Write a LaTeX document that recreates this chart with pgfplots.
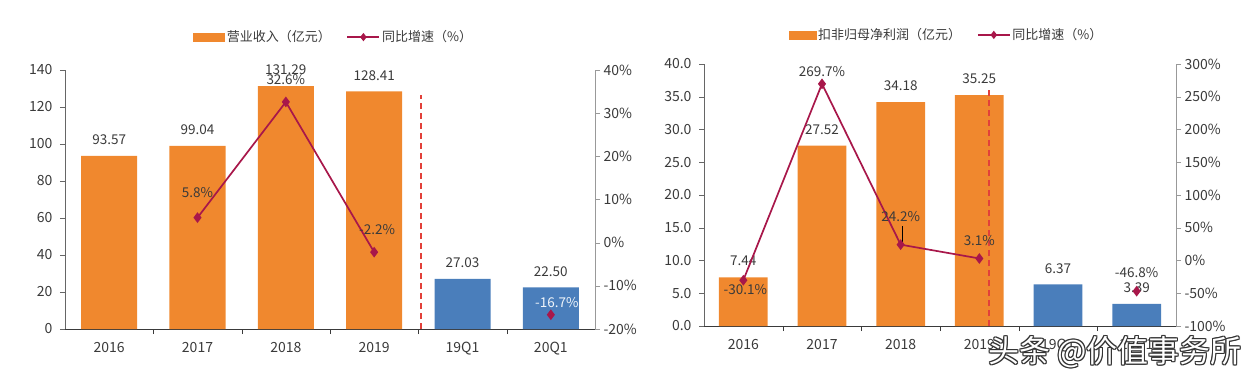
\documentclass[border=0pt]{standalone}
\usepackage{fontspec}
\setmainfont{Noto Sans CJK SC}
\usepackage{pgfplots}
\usepackage{pgfplotstable}
\pgfplotsset{compat=1.18}
\definecolor{bor}{HTML}{F0882E}
\definecolor{bbl}{HTML}{4A7EBB}
\definecolor{lin}{HTML}{A8174A}
\definecolor{dsh}{HTML}{E2403A}
\definecolor{txt}{HTML}{3A3A3A}

\pgfplotstableread{
x y
0 93.57
1 99.04
2 131.29
3 128.41
}\Lor
\pgfplotstableread{
x y
4 27.03
5 22.50
}\Lbl
\pgfplotstableread{
x y dx dy
1 5.8 0 25
2 32.6 0 22
3 -2.2 3 23
}\Lgr
\pgfplotstableread{
x y dx dy
5 -16.7 6 12
}\Lgq
\pgfplotstableread{
x y
0 7.44
1 27.52
2 34.18
3 35.25
}\Ror
\pgfplotstableread{
x y
4 6.37
5 3.39
}\Rbl
\pgfplotstableread{
x y dx dy
0 -30.1 2 -9
1 269.7 0 12
2 24.2 0 28
3 3.1 0 18
}\Rgr
\pgfplotstableread{
x y dx dy
5 -46.8 0 19
}\Rgq

\pgfplotsset{
  /pgf/number format/assume math mode=true,
  base/.style={scale only axis, xmin=-0.5, xmax=5.5, clip=false,
    tick align=outside, major tick length=5pt,
    tick label style={font=\fontsize{14}{16}\selectfont, text=txt},
    axis line style={-}},
  first/.style={base, axis x line*=bottom, axis y line*=left,
    x axis line style={draw=txt}, y axis line style={draw=black!60},
    ytick style={draw=black!60},
    yticklabel style={xshift=-4pt},
    xticklabel style={yshift=-5pt},
    xtick={0,...,5}, xticklabels={2016,2017,2018,2019,19Q1,20Q1},
    major x tick style={draw=none},
    minor xtick={0.5,1.5,2.5,3.5,4.5}, minor tick length=5pt,
    minor x tick style={draw=txt}},
  second/.style={base, axis y line*=right, axis x line=none,
    y axis line style={draw=black!40}, ytick style={draw=black!40},
    yticklabel={\pgfmathprintnumber{\tick}\%},
    legend style={draw=none, fill=none, legend columns=2,
      font=\fontsize{13}{15}\selectfont, text=txt, inner sep=0pt,
      /tikz/every even column/.append style={column sep=14pt}},
    legend cell align=left},
  barlbl/.style={nodes near coords={\pgfmathprintnumber[fixed,fixed zerofill,precision=2]{\pgfplotspointmeta}},
    every node near coord/.append style={anchor=center, yshift=16pt,
      font=\fontsize{13.5}{15}\selectfont, text=txt}},
  grlbl/.style={visualization depends on={\thisrow{dx}\as\mydx},
    visualization depends on={\thisrow{dy}\as\mydy},
    nodes near coords={\pgfmathprintnumber[fixed,fixed zerofill,precision=1]{\pgfplotspointmeta}\%},
    every node near coord/.append style={anchor=center, xshift=\mydx pt, yshift=\mydy pt,
      font=\fontsize{13.5}{15}\selectfont, text=txt}},
  ln/.style={lin, line width=1.7pt, mark=diamond*, mark size=4pt, mark options={solid}},
  barimgL/.style={legend image code/.code={\fill[bor] (0pt,-4pt) rectangle (31pt,4pt);}},
  barimgR/.style={legend image code/.code={\fill[bor] (0pt,-4pt) rectangle (27pt,4pt);}},
  lnimg/.style={legend image code/.code={\draw[lin, line width=1.3pt] (0pt,0pt) -- (32pt,0pt);
     \fill[lin] (16pt,2.8pt) -- (18.2pt,0pt) -- (16pt,-2.8pt) -- (13.8pt,0pt) -- cycle;}}
}

\begin{document}
\begin{tikzpicture}
\path[use as bounding box] (0,0) rectangle (1256pt,378pt);

% ---------- left panel ----------
\begin{axis}[first, at={(65pt,49pt)}, anchor=south west, width=530pt, height=259pt,
  ymin=0, ymax=140, ytick={0,20,...,140}]
\addplot[ybar, bar width=0.634, bar shift=0pt, fill=bor, draw=none, barlbl] table[x=x,y=y] {\Lor};
\addplot[ybar, bar width=0.634, bar shift=0pt, fill=bbl, draw=none, barlbl] table[x=x,y=y] {\Lbl};
\addplot[dsh, line width=1.5pt, dash pattern=on 6pt off 4pt] coordinates {(3.53,0) (3.53,126.5)};
\end{axis}
\begin{axis}[second, at={(65pt,49pt)}, anchor=south west, width=530pt, height=259pt,
  ymin=-20, ymax=40, ytick={-20,-10,...,40},
  legend style={at={(0.507,1.127)}, anchor=center}]
\addlegendimage{barimgL}
\addlegendentry{营业收入（亿元）}
\addplot[ln, grlbl, lnimg] table[x=x,y=y] {\Lgr};
\addlegendentry{同比增速（\%）}
\addplot[ln, only marks, forget plot, grlbl, every node near coord/.append style={text=white!92!bbl}] table[x=x,y=y] {\Lgq};
\end{axis}

% ---------- right panel ----------
\begin{axis}[first, at={(704pt,52pt)}, anchor=south west, width=472pt, height=262pt,
  ymin=0, ymax=40, ytick={0,5,...,40},
  yticklabel style={/pgf/number format/.cd, fixed, fixed zerofill, precision=1}]
\addplot[ybar, bar width=0.62, bar shift=0pt, fill=bor, draw=none, barlbl] table[x=x,y=y] {\Ror};
\addplot[ybar, bar width=0.62, bar shift=0pt, fill=bbl, draw=none, barlbl] table[x=x,y=y] {\Rbl};
\addplot[dsh, line width=1.5pt, dash pattern=on 6pt off 4pt] coordinates {(3.12,0) (3.12,36.3)};
\end{axis}
\begin{axis}[second, at={(704pt,52pt)}, anchor=south west, width=472pt, height=262pt,
  ymin=-100, ymax=300, ytick={-100,-50,...,300},
  legend style={at={(0.514,1.111)}, anchor=center}]
\addlegendimage{barimgR}
\addlegendentry{扣非归母净利润（亿元）}
\addplot[ln, grlbl, lnimg] table[x=x,y=y] {\Rgr};
\addlegendentry{同比增速（\%）}
\addplot[ln, only marks, forget plot, grlbl] table[x=x,y=y] {\Rgq};
\addplot[black, line width=0.6pt, forget plot] coordinates {(2.02,52) (2.02,27)};
\end{axis}

% ---------- watermark ----------
\foreach \a/\b in {1.1/0,-1.1/0,0/1.1,0/-1.1,0.8/0.8,-0.8/0.8,0.8/-0.8,-0.8/-0.8}{
  \node[font=\fontsize{31}{31}\selectfont, text=black!80, inner sep=0pt, xshift=\a pt, yshift=\b pt] at (1115pt,26pt) {头条 @价值事务所};
}
\node[font=\fontsize{31}{31}\selectfont, text=white, inner sep=0pt] at (1115pt,26pt) {头条 @价值事务所};
\end{tikzpicture}
\end{document}
